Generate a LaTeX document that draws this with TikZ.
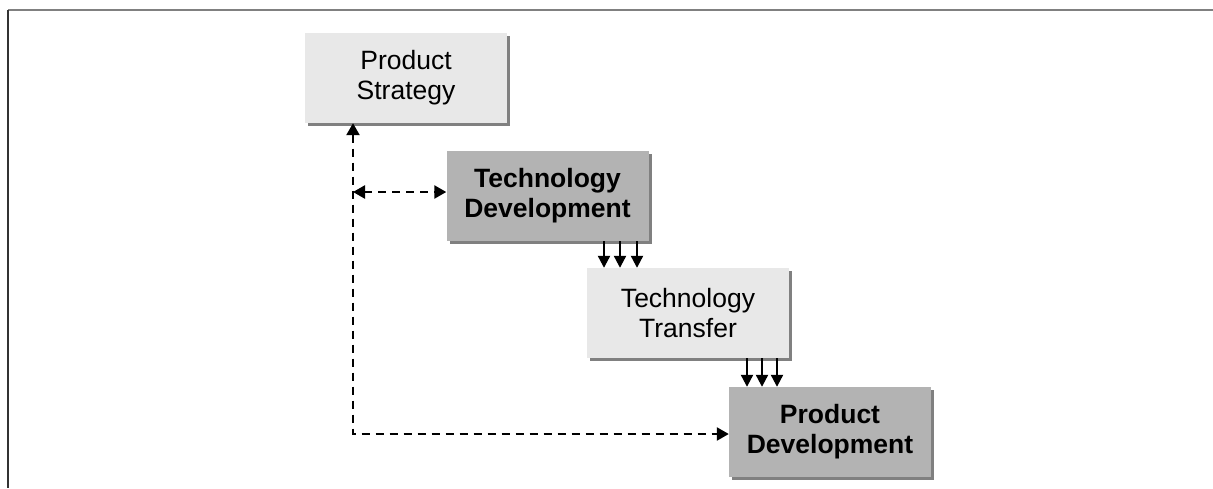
\documentclass[tikz,border=0pt]{standalone}
\usepackage{fontspec}
\setmainfont{Liberation Sans}
\usetikzlibrary{arrows.meta}
\definecolor{lightbox}{HTML}{E8E8E8}
\definecolor{darkbox}{HTML}{B3B3B3}
\definecolor{shadowc}{HTML}{808080}
\begin{document}
\begin{tikzpicture}[x=1pt,y=-1pt,
  box/.style={draw=none, minimum width=202pt, minimum height=90pt, inner sep=0pt,
    align=center, font=\fontsize{26.5}{30}\selectfont},
  lightstep/.style={box, fill=lightbox},
  darkstep/.style={box, fill=darkbox, font=\fontsize{26.5}{30}\selectfont\bfseries},
  tipshape/.style={},
  dashconn/.style={line width=2.4pt, dash pattern=on 8pt off 6pt, {Triangle[length=12pt,width=13pt]}-{Triangle[length=12pt,width=13pt]}},
  flow/.style={line width=2.2pt, -{Triangle[length=12pt,width=12pt]}}
]
\useasboundingbox (0,0) rectangle (1213,488);
\fill[white] (0,0) rectangle (1213,488);
% frame
\draw[line width=2pt, color=gray] (8,10) -- (1213,10);
\draw[line width=2pt, color=black!80] (8,10) -- (8,488);
% shadows
\foreach \l/\t in {305/33, 447/151, 587/268, 729/387}{
  \fill[shadowc] (\l+2.5,\t+2.5) rectangle (\l+204.5,\t+92.5);
}
\node[lightstep] (ps) at (406,78) {Product\\Strategy};
\node[darkstep] (td) at (547.5,196) {Technology\\Development};
\node[lightstep] (tt) at (688,313) {Technology\\Transfer};
\node[darkstep] (pd) at (830,432) {Product\\Development};
% dashed connectors
\coordinate (corner) at (353,434);
\coordinate (junc) at (353,192);
\draw[dashconn] (ps.south -| junc) -- (corner) -- (pd.west |- corner);
\draw[dashconn] (junc) -- (td.west |- junc);
% flows
\foreach \x in {604,620,637}{
  \draw[flow] (td.south -| \x,0) -- (tt.north -| \x,0);
}
\foreach \x in {747,762,777}{
  \draw[flow] (tt.south -| \x,0) -- (pd.north -| \x,0);
}
\end{tikzpicture}
\end{document}
